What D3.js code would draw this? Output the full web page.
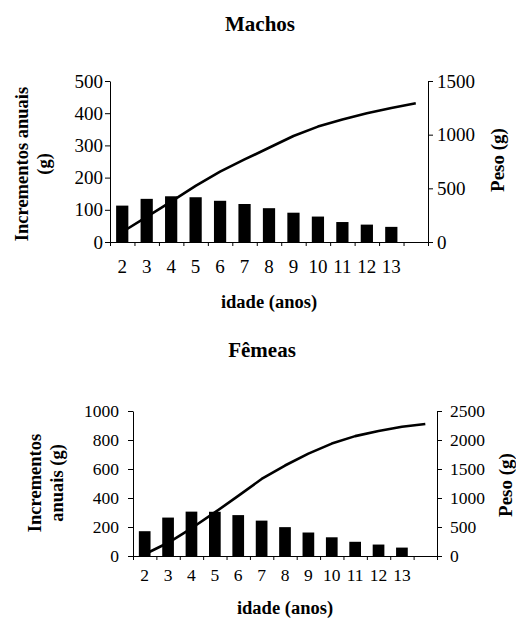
<!DOCTYPE html>
<html lang="pt">
  <head>
    <meta charset="utf-8">
    <title>Machos e Fêmeas</title>
    <script src="https://cdn.jsdelivr.net/npm/d3@7"></script>
    <style>
      body { margin: 0; background: #fff; }
      svg text { font-family: "Liberation Serif", "DejaVu Serif", serif !important; fill: #000; }
      .titulo { font-weight: bold; }
      .eixo path, .eixo line { stroke: #000; stroke-width: 1; }
    </style>
  </head>
  <body>
    <script>
      // Idades (rótulos do eixo x); a última banda fica sem rótulo
      var idades = ["2", "3", "4", "5", "6", "7", "8", "9", "10", "11", "12", "13", ""];

      // Machos
      var machosIncremento = [113, 134, 142, 139, 128, 118, 105, 91, 79, 62, 54, 47];
      var machosPeso = [93, 234, 376, 523, 655, 769, 878, 988, 1075, 1142, 1199, 1249, 1293];
      var machosTicksEsq = [0, 100, 200, 300, 400, 500];
      var machosTicksDir = [0, 500, 1000, 1500];

      // Fêmeas
      var femeasIncremento = [171, 265, 306, 305, 282, 244, 199, 162, 129, 98, 79, 58];
      var femeasPeso = [30, 228, 478, 751, 1036, 1328, 1560, 1765, 1938, 2067, 2154, 2228, 2275];
      var femeasTicksEsq = [0, 200, 400, 600, 800, 1000];
      var femeasTicksDir = [0, 500, 1000, 1500, 2000, 2500];

      var w = 516, h = 627;
      var serif = "'Liberation Serif', 'DejaVu Serif', serif";

      var svg = d3.select("body").append("svg")
        .attr("width", w)
        .attr("height", h)
        .attr("font-family", serif);

      function painel(p) {
        var g = svg.append("g");

        var x = d3.scaleBand()
          .domain(d3.range(idades.length))
          .range([p.x0, p.x1])
          .paddingInner(0.5)
          .paddingOuter(0.25);

        var yEsq = d3.scaleLinear()
          .domain([0, d3.max(p.ticksEsq)])
          .range([p.y1, p.y0]);

        var yDir = d3.scaleLinear()
          .domain([0, d3.max(p.ticksDir)])
          .range([p.y1, p.y0]);

        // escala auxiliar para os traços entre as bandas
        var xBordas = d3.scaleLinear()
          .domain([0, idades.length])
          .range([p.x0, p.x1]);

        // barras
        g.selectAll("rect.barra")
          .data(p.incremento)
          .enter()
          .append("rect")
          .attr("class", "barra")
          .attr("x", function(d, i) { return x(i); })
          .attr("y", function(d) { return yEsq(d); })
          .attr("width", x.bandwidth())
          .attr("height", function(d) { return yEsq(0) - yEsq(d); })
          .attr("fill", "#000");

        // linha do peso
        var linha = d3.line()
          .x(function(d, i) { return x(i) + x.bandwidth() / 2; })
          .y(function(d) { return yDir(d); });

        g.append("path")
          .datum(p.peso)
          .attr("d", linha)
          .attr("fill", "none")
          .attr("stroke", "#000")
          .attr("stroke-width", 2.6)
          .attr("stroke-linejoin", "round");

        // eixo x: traços nas bordas das bandas
        g.append("g")
          .attr("class", "eixo")
          .attr("transform", "translate(0," + p.y1 + ")")
          .call(d3.axisBottom(xBordas)
            .tickValues(d3.range(idades.length + 1))
            .tickFormat("")
            .tickSize(4)
            .tickSizeOuter(0));

        // rótulos do eixo x
        g.append("g")
          .attr("transform", "translate(0," + p.y1 + ")")
          .call(d3.axisBottom(x)
            .tickFormat(function(i) { return idades[i]; })
            .tickSize(0)
            .tickPadding(p.padX))
          .call(function(s) {
            s.attr("font-family", serif).attr("font-size", p.fonte);
            s.select(".domain").remove();
          });

        // eixo esquerdo
        g.append("g")
          .attr("class", "eixo")
          .attr("transform", "translate(" + p.x0 + ",0)")
          .call(d3.axisLeft(yEsq)
            .tickValues(p.ticksEsq)
            .tickFormat(d3.format("d"))
            .tickSize(5)
            .tickSizeOuter(0)
            .tickPadding(p.padEsq))
          .attr("font-family", serif)
          .attr("font-size", p.fonte);

        // eixo direito
        g.append("g")
          .attr("class", "eixo")
          .attr("transform", "translate(" + p.x1 + ",0)")
          .call(d3.axisRight(yDir)
            .tickValues(p.ticksDir)
            .tickFormat(d3.format("d"))
            .tickSize(5)
            .tickSizeOuter(0)
            .tickPadding(p.padDir))
          .attr("font-family", serif)
          .attr("font-size", p.fonte);

        // título do painel
        g.append("text")
          .attr("class", "titulo")
          .attr("x", p.tituloX)
          .attr("y", p.tituloY)
          .attr("text-anchor", "middle")
          .attr("font-size", "21px")
          .text(p.titulo);

        // título do eixo x
        g.append("text")
          .attr("class", "titulo")
          .attr("x", (p.x0 + p.x1) / 2)
          .attr("y", p.idadeY)
          .attr("text-anchor", "middle")
          .attr("font-size", "18.5px")
          .text("idade (anos)");

        // título do eixo esquerdo (duas linhas)
        p.linhasEsq.forEach(function(t, i) {
          g.append("text")
            .attr("class", "titulo")
            .attr("text-anchor", "middle")
            .attr("font-size", "18.5px")
            .attr("transform", "translate(" + p.esqX[i] + "," + p.esqY + ") rotate(-90)")
            .text(t);
        });

        // título do eixo direito
        g.append("text")
          .attr("class", "titulo")
          .attr("text-anchor", "middle")
          .attr("font-size", "19px")
          .attr("transform", "translate(" + p.dirX + "," + p.dirY + ") rotate(-90)")
          .text("Peso (g)");
      }

      painel({
        titulo: "Machos", tituloX: 260, tituloY: 31,
        incremento: machosIncremento, peso: machosPeso,
        ticksEsq: machosTicksEsq, ticksDir: machosTicksDir,
        x0: 110, x1: 428, y0: 81, y1: 242,
        fonte: 19, padX: 18, padEsq: 2, padDir: 4,
        idadeY: 308,
        linhasEsq: ["Incrementos anuais", "(g)"], esqX: [28, 50], esqY: 164,
        dirX: 504, dirY: 160
      });

      painel({
        titulo: "Fêmeas", tituloX: 262, tituloY: 357,
        incremento: femeasIncremento, peso: femeasPeso,
        ticksEsq: femeasTicksEsq, ticksDir: femeasTicksDir,
        x0: 133, x1: 437, y0: 411, y1: 556,
        fonte: 17.5, padX: 13, padEsq: 9, padDir: 8,
        idadeY: 614,
        linhasEsq: ["Incrementos", "anuais (g)"], esqX: [41, 63], esqY: 483,
        dirX: 512, dirY: 485
      });
    </script>
  </body>
</html>
